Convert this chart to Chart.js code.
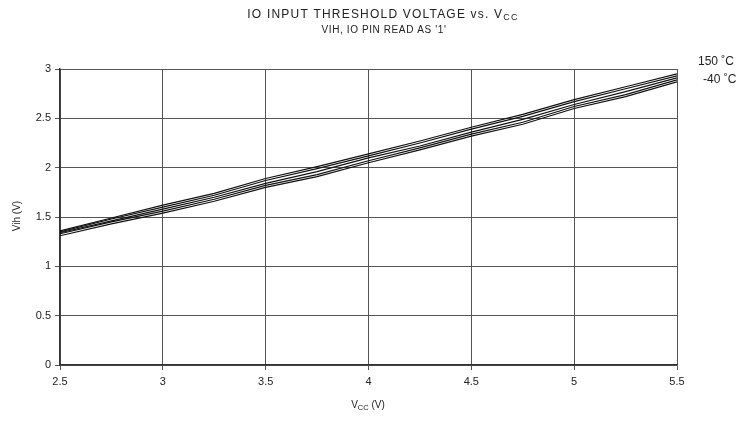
<!DOCTYPE html>
<html>
<head>
<meta charset="utf-8">
<script src="https://cdn.jsdelivr.net/npm/chart.js@4/dist/chart.umd.min.js"></script>
<style>
  html, body { margin: 0; padding: 0; background: #fff; }
  #wrap { width: 743px; height: 422px; position: relative; }
</style>
</head>
<body>
<div id="wrap"><canvas id="chart"></canvas></div>
<script>
// supply voltage (x) and threshold curves, top to bottom
const vcc = [2.5, 2.75, 3.0, 3.25, 3.5, 3.75, 4.0, 4.25, 4.5, 4.75, 5.0, 5.25, 5.5];
const vih150 = [1.36, 1.49, 1.62, 1.74, 1.89, 2.01, 2.14, 2.27, 2.41, 2.54, 2.69, 2.82, 2.95];
const vih125 = [1.35, 1.48, 1.60, 1.72, 1.87, 1.99, 2.12, 2.25, 2.39, 2.52, 2.67, 2.80, 2.93];
const vih85 = [1.34, 1.46, 1.58, 1.70, 1.84, 1.96, 2.10, 2.22, 2.36, 2.49, 2.64, 2.77, 2.91];
const vih25 = [1.33, 1.45, 1.56, 1.68, 1.82, 1.93, 2.07, 2.20, 2.34, 2.46, 2.62, 2.74, 2.89];
const vihM40 = [1.31, 1.43, 1.54, 1.66, 1.80, 1.91, 2.05, 2.18, 2.32, 2.44, 2.60, 2.72, 2.87];
const seriesNames = ['150 ˚C', '125 ˚C', '85 ˚C', '25 ˚C', '-40 ˚C'];
const legendNames = ['150 ˚C', '-40 ˚C'];
const xTicks = [2.5, 3, 3.5, 4, 4.5, 5, 5.5];
const yTicks = [0, 0.5, 1, 1.5, 2, 2.5, 3];

const FONT = '"Liberation Sans", Arial, sans-serif';
const TXT = '#222';

function pts(ys) {
  return vcc.map((x, i) => ({ x, y: ys[i] }));
}

// draws head text with a subscript and optional tail, centred on cx
function drawSub(ctx, cx, y, size, head, sub, tail, spacing) {
  ctx.letterSpacing = spacing + 'px';
  ctx.font = `${size}px ${FONT}`;
  const wHead = ctx.measureText(head).width;
  const wTail = ctx.measureText(tail).width;
  ctx.font = `${size * 0.75}px ${FONT}`;
  const wSub = ctx.measureText(sub).width;
  let x = cx - (wHead + wSub + wTail) / 2;
  ctx.textAlign = 'left';
  ctx.textBaseline = 'alphabetic';
  ctx.font = `${size}px ${FONT}`;
  ctx.fillText(head, x, y);
  x += wHead;
  ctx.font = `${size * 0.75}px ${FONT}`;
  ctx.fillText(sub, x, y + size * 0.2);
  x += wSub;
  ctx.font = `${size}px ${FONT}`;
  ctx.fillText(tail, x, y);
  ctx.letterSpacing = '0px';
}

const textPlugin = {
  id: 'texts',
  afterDraw(chart) {
    const ctx = chart.ctx;
    ctx.save();
    ctx.fillStyle = TXT;
    drawSub(ctx, 383, 18, 12, 'IO INPUT THRESHOLD VOLTAGE vs. V', 'CC', '', 1.2);
    ctx.letterSpacing = '0.6px';
    ctx.font = `10px ${FONT}`;
    ctx.textAlign = 'center';
    ctx.fillText("VIH, IO PIN READ AS '1'", 384, 33);
    ctx.letterSpacing = '0px';
    drawSub(ctx, 368, 408, 10, 'V', 'CC', ' (V)', 0);

    ctx.save();
    ctx.translate(17, 216);
    ctx.rotate(-Math.PI / 2);
    ctx.font = `10px ${FONT}`;
    ctx.textAlign = 'center';
    ctx.textBaseline = 'middle';
    ctx.fillText('Vih (V)', 0, 0);
    ctx.restore();

    ctx.font = `12px ${FONT}`;
    ctx.textAlign = 'left';
    ctx.textBaseline = 'middle';
    ctx.fillText(legendNames[0], 698, 62);
    ctx.fillText(legendNames[1], 703, 80);
    ctx.restore();
  }
};

const datasets = [vih150, vih125, vih85, vih25, vihM40].map((ys, i) => ({
  label: seriesNames[i],
  data: pts(ys),
  borderColor: '#111',
  borderWidth: 1.2,
  pointRadius: 0,
  tension: 0,
  fill: false
}));

new Chart(document.getElementById('chart'), {
  type: 'line',
  data: { datasets },
  options: {
    responsive: true,
    maintainAspectRatio: false,
    animation: false,
    layout: { padding: { left: 0, right: 66, top: 69, bottom: 0 } },
    plugins: {
      legend: { display: false },
      tooltip: { enabled: false },
      title: { display: false }
    },
    scales: {
      x: {
        type: 'linear',
        min: 2.5,
        max: 5.5,
        afterBuildTicks: (s) => { s.ticks = xTicks.map((v) => ({ value: v })); },
        afterFit: (s) => { s.height = 57; },
        ticks: { color: TXT, font: { family: FONT, size: 11 }, padding: 5, maxRotation: 0, callback: (v) => String(v) },
        grid: { color: '#555', lineWidth: 1, tickLength: 5 },
        border: { color: '#333', width: 1.5 }
      },
      y: {
        min: 0,
        max: 3,
        afterBuildTicks: (s) => { s.ticks = yTicks.map((v) => ({ value: v })); },
        afterFit: (s) => { s.width = 60; },
        ticks: { color: TXT, font: { family: FONT, size: 11 }, padding: 4, callback: (v) => String(v) },
        grid: { color: '#555', lineWidth: 1, tickLength: 5 },
        border: { color: '#333', width: 1.5 }
      }
    }
  },
  plugins: [textPlugin]
});
</script>
</body>
</html>
